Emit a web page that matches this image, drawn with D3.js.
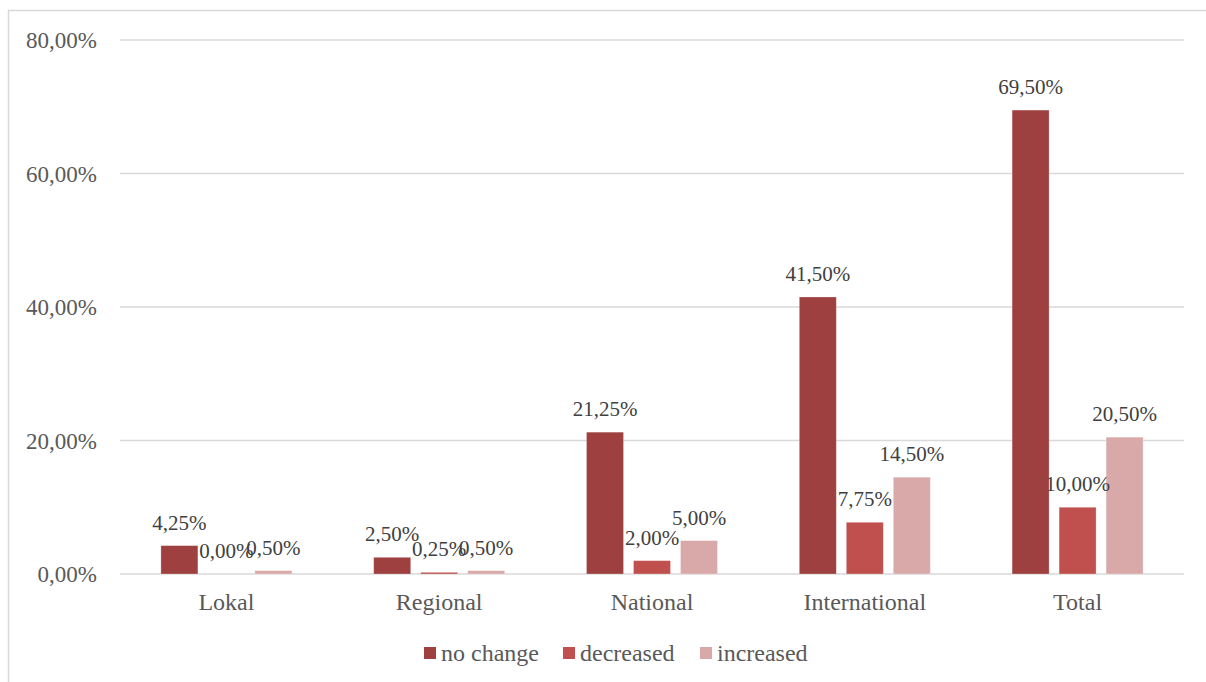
<!DOCTYPE html>
<html>
<head>
<meta charset="utf-8">
<script src="https://cdn.jsdelivr.net/npm/d3@7"></script>
<style>
  html, body { margin: 0; padding: 0; background: #fff; }
  svg { display: block; }
</style>
</head>
<body>
<svg id="chart" width="1206" height="682"></svg>
<script>
const categories = ["Lokal", "Regional", "National", "International", "Total"];
const seriesNames = ["no change", "decreased", "increased"];
const noChange = [4.25, 2.50, 21.25, 41.50, 69.50];
const decreased = [0.00, 0.25, 2.00, 7.75, 10.00];
const increased = [0.50, 0.50, 5.00, 14.50, 20.50];
const yTicks = [0, 20, 40, 60, 80];
const colors = ["#9E4040", "#C0504D", "#D9A9A9"];

(function () {
const series = [noChange, decreased, increased];
const fmt = v => v.toFixed(2).replace(".", ",") + "%";
const FONT = "'Liberation Serif', 'Times New Roman', Tinos, serif";

const svg = d3.select("#chart");
const textColor = "#595959";

// outer border
svg.append("rect")
  .attr("x", 8.5).attr("y", 10.5)
  .attr("width", 1230).attr("height", 700)
  .attr("fill", "none").attr("stroke", "#d9d9d9").attr("stroke-width", 1.5);

const pLeft = 120, pRight = 1184, pTop = 40, pBottom = 574;

const x = d3.scaleBand().domain(categories).range([pLeft, pRight]).paddingInner(0).paddingOuter(0);
const xs = d3.scaleBand().domain(seriesNames).range([0, 3 * 37 + 2 * 10]).paddingInner(10 / 47).paddingOuter(0);
const y = d3.scaleLinear().domain([0, 80]).range([pBottom, pTop]);

// gridlines
svg.append("g").selectAll("line").data(yTicks).join("line")
  .attr("x1", pLeft).attr("x2", pRight)
  .attr("y1", d => y(d)).attr("y2", d => y(d))
  .attr("stroke", "#d9d9d9").attr("stroke-width", 1.5);

// y axis labels
svg.append("g").selectAll("text").data(yTicks).join("text")
  .attr("x", 97).attr("y", d => y(d))
  .attr("dy", "0.35em")
  .attr("text-anchor", "end")
  .attr("fill", textColor)
  .style("font-family", FONT)
  .style("font-size", "23px")
  .text(d => fmt(d));

// bars
const groupW = xs.range()[1];
categories.forEach((c, i) => {
  const gx = x(c) + (x.bandwidth() - groupW) / 2;
  series.forEach((s, j) => {
    const v = s[i];
    const bx = gx + xs(seriesNames[j]);
    svg.append("rect")
      .attr("x", bx).attr("y", y(v))
      .attr("width", xs.bandwidth()).attr("height", y(0) - y(v))
      .attr("fill", colors[j])
      .attr("stroke", "#ffffff").attr("stroke-opacity", 0.35).attr("stroke-width", 0.75);
  });
});

// data labels
categories.forEach((c, i) => {
  const gx = x(c) + (x.bandwidth() - groupW) / 2;
  series.forEach((s, j) => {
    const v = s[i];
    const cx = gx + xs(seriesNames[j]) + xs.bandwidth() / 2;
    svg.append("text")
      .attr("x", cx).attr("y", y(v) - 16)
      .attr("text-anchor", "middle")
      .attr("fill", "#404040")
      .style("font-family", FONT)
      .style("font-size", "21px")
      .text(fmt(v));
  });
});

// x axis category labels
svg.append("g").selectAll("text").data(categories).join("text")
  .attr("x", d => x(d) + x.bandwidth() / 2)
  .attr("y", 610)
  .attr("text-anchor", "middle")
  .attr("fill", textColor)
  .style("font-family", FONT)
  .style("font-size", "24px")
  .text(d => d);

// legend
const legendX = [424, 563, 700];
const lg = svg.append("g");
seriesNames.forEach((n, j) => {
  lg.append("rect").attr("x", legendX[j]).attr("y", 647).attr("width", 12).attr("height", 12).attr("fill", colors[j]);
  lg.append("text").attr("x", legendX[j] + 17).attr("y", 661)
    .attr("fill", textColor)
    .style("font-family", FONT).style("font-size", "24px").text(n);
});
})();
</script>
</body>
</html>
